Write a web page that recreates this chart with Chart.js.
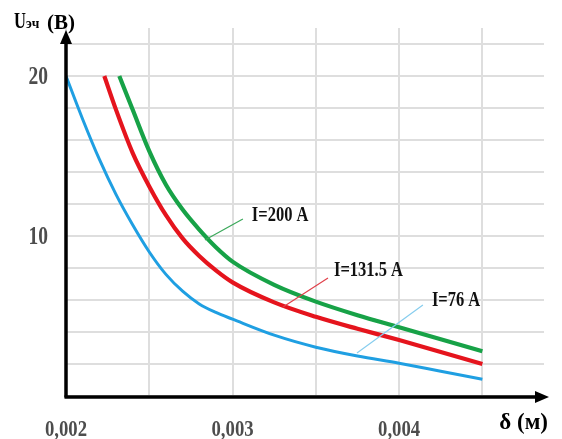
<!DOCTYPE html>
<html>
<head>
<meta charset="utf-8">
<script src="https://cdn.jsdelivr.net/npm/chart.js@4.4.0/dist/chart.umd.min.js"></script>
<style>
  html, body { margin: 0; padding: 0; background: #fff; }
  #wrap { width: 562px; height: 439px; position: relative; }
</style>
</head>
<body>
<div id="wrap"><canvas id="graphic"></canvas></div>
<script>
// delta (m) and U (V), one pair of arrays per current
const deltaI76 = [0.002, 0.0021, 0.0022, 0.0023, 0.0024, 0.0025, 0.0026, 0.0027, 0.0028, 0.0029, 0.003, 0.00325, 0.0035, 0.00375, 0.004, 0.00425, 0.0045]
const uI76 = [20, 17.3, 14.8, 12.6, 10.7, 9.0, 7.6, 6.55, 5.75, 5.22, 4.8, 3.8, 3.05, 2.5, 2.05, 1.55, 1.05]

const deltaI131 = [0.00223, 0.0023, 0.0024, 0.0025, 0.0026, 0.0027, 0.0028, 0.0029, 0.003, 0.00325, 0.0035, 0.00375, 0.004, 0.00425, 0.0045]
const uI131 = [20, 17.9, 15.2, 13.1, 11.3, 9.85, 8.75, 7.85, 7.1, 5.85, 4.95, 4.2, 3.5, 2.75, 2.0]

const deltaI200 = [0.00232, 0.0024, 0.0025, 0.0026, 0.0027, 0.0028, 0.0029, 0.003, 0.00325, 0.0035, 0.00375, 0.004, 0.00425, 0.0045]
const uI200 = [20, 17.9, 15.3, 13.2, 11.65, 10.4, 9.3, 8.4, 6.95, 5.9, 5.05, 4.3, 3.55, 2.8]

const seriesNames = ['I=76 A', 'I=131.5 A', 'I=200 A']

const xTickValues = [0.002, 0.003, 0.004]
const xTickLabels = ['0,002', '0,003', '0,004']
const yTickValues = [10, 20]
const yTickLabels = ['10', '20']

const yTitle = ['U', 'эч', '(В)']
const xTitle = 'δ (м)'

const serif = '"Liberation Serif", "Times New Roman", serif'

const toPoints = (xs, ys) => xs.map((x, i) => ({ x: x, y: ys[i] }))

// leader lines: point on the curve, end of the leader, where the label starts (data units)
const callouts = [
  { text: seriesNames[2], color: '#3aa85a', from: [0.002834, 9.75], to: [0.003062, 11.06], at: [0.003116, 11.3] },
  { text: seriesNames[1], color: '#e0404a', from: [0.003303, 5.56], to: [0.003573, 7.375], at: [0.003609, 7.875] },
  { text: seriesNames[0], color: '#86cdee', from: [0.003747, 2.69], to: [0.004143, 5.69], at: [0.004197, 6.0] }
]

const drawNarrow = (ctx, text, x, y, size, align, squeeze, baseline) => {
  ctx.save()
  ctx.translate(x, y)
  ctx.scale(squeeze, 1)
  ctx.font = `bold ${size}px ${serif}`
  ctx.textAlign = align
  ctx.textBaseline = baseline || 'alphabetic'
  ctx.fillText(text, 0, 0)
  ctx.restore()
}

const decorPlugin = {
  id: 'decor',
  afterDatasetsDraw (chart) {
    const ctx = chart.ctx
    const xs = chart.scales.x
    const ys = chart.scales.y
    ctx.save()
    callouts.forEach(c => {
      ctx.strokeStyle = c.color
      ctx.lineWidth = 1.2
      ctx.beginPath()
      ctx.moveTo(xs.getPixelForValue(c.from[0]), ys.getPixelForValue(c.from[1]))
      ctx.lineTo(xs.getPixelForValue(c.to[0]), ys.getPixelForValue(c.to[1]))
      ctx.stroke()
      ctx.fillStyle = '#111'
      drawNarrow(ctx, c.text, xs.getPixelForValue(c.at[0]), ys.getPixelForValue(c.at[1]), 22, 'left', 0.75, 'middle')
    })
    ctx.restore()
  },
  afterDraw (chart) {
    const ctx = chart.ctx
    const { left, right, top, bottom } = chart.chartArea
    const xs = chart.scales.x
    const ys = chart.scales.y
    ctx.save()
    ctx.strokeStyle = '#000'
    ctx.fillStyle = '#000'
    ctx.lineWidth = 3.5
    // y axis with arrow
    ctx.beginPath()
    ctx.moveTo(left, bottom + 1.5)
    ctx.lineTo(left, top + 12)
    ctx.stroke()
    ctx.beginPath()
    ctx.moveTo(left, top + 2)
    ctx.lineTo(left - 6, top + 16)
    ctx.lineTo(left + 6, top + 16)
    ctx.closePath()
    ctx.fill()
    // x axis with arrow
    ctx.beginPath()
    ctx.moveTo(left - 1.5, bottom + 1)
    ctx.lineTo(right - 6, bottom + 1)
    ctx.stroke()
    ctx.beginPath()
    ctx.moveTo(right + 5, bottom + 1)
    ctx.lineTo(right - 9, bottom - 5)
    ctx.lineTo(right - 9, bottom + 7)
    ctx.closePath()
    ctx.fill()

    // tick labels
    ctx.fillStyle = '#4d4d4d'
    xTickValues.forEach((v, i) => {
      drawNarrow(ctx, xTickLabels[i], xs.getPixelForValue(v), bottom + 40, 24, 'center', 0.78)
    })
    yTickValues.forEach((v, i) => {
      drawNarrow(ctx, yTickLabels[i], left - 18, ys.getPixelForValue(v) + 8, 25, 'right', 0.78)
    })

    // axis titles
    ctx.fillStyle = '#000'
    drawNarrow(ctx, yTitle[0], 14, 28, 23, 'left', 0.72)
    drawNarrow(ctx, yTitle[1], 26, 28, 15, 'left', 0.9)
    drawNarrow(ctx, yTitle[2], 47, 29, 21, 'left', 1)
    drawNarrow(ctx, xTitle, 548, 429, 23, 'right', 1)
    ctx.restore()
  }
}

const renderGrafico = () => {
  const ctx = document.querySelector('#graphic').getContext('2d')
  const line = (label, pts, color, width) => ({
    label: label,
    data: pts,
    borderColor: color,
    backgroundColor: color,
    borderWidth: width,
    pointRadius: 0,
    cubicInterpolationMode: 'monotone',
    fill: false
  })

  new Chart(ctx, {
    type: 'line',
    data: {
      datasets: [
        line(seriesNames[0], toPoints(deltaI76, uI76), '#1f9fe2', 3),
        line(seriesNames[1], toPoints(deltaI131, uI131), '#e5141d', 4.2),
        line(seriesNames[2], toPoints(deltaI200, uI200), '#17a247', 4.2)
      ]
    },
    options: {
      responsive: true,
      maintainAspectRatio: false,
      animation: false,
      layout: { padding: { top: 28, right: 18, left: 0, bottom: 0 } },
      plugins: {
        legend: { display: false },
        tooltip: { enabled: false }
      },
      scales: {
        x: {
          type: 'linear',
          min: 0.002,
          max: 0.00487,
          border: { display: false },
          grid: { color: '#dedede', lineWidth: 2, drawTicks: false },
          ticks: { display: false, stepSize: 0.0005, includeBounds: false },
          afterFit: (scale) => { scale.height = 43 }
        },
        y: {
          min: 0,
          max: 23,
          border: { display: false },
          grid: { color: '#dedede', lineWidth: 2, drawTicks: false },
          ticks: { display: false, stepSize: 2, includeBounds: false },
          afterFit: (scale) => { scale.width = 66 }
        }
      }
    },
    plugins: [decorPlugin]
  })
}

renderGrafico()
</script>
</body>
</html>
